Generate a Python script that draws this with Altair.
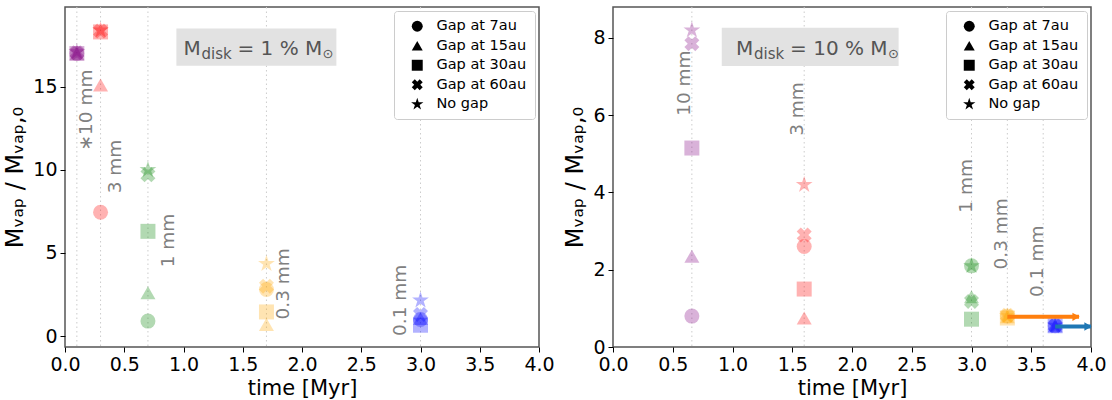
import altair as alt
import pandas as pd

GAPS = ["Gap at 7au", "Gap at 15au", "Gap at 30au", "Gap at 60au", "No gap"]
SIZES = ["10 mm", "3 mm", "1 mm", "0.3 mm", "0.1 mm"]
COLORS = ["rgba(128,0,128,0.3)", "rgba(255,0,0,0.3)", "rgba(0,128,0,0.3)",
          "rgba(255,165,0,0.3)", "rgba(0,0,255,0.3)"]
X_PATH = "M-1,-0.45L-0.45,-1L0,-0.55L0.45,-1L1,-0.45L0.55,0L1,0.45L0.45,1L0,0.55L-0.45,1L-1,0.45L-0.55,0Z"
STAR_PATH = ("M0,-1.18L0.265,-0.365L1.12,-0.365L0.428,0.139L0.694,0.955L0,0.451"
             "L-0.694,0.955L-0.428,0.139L-1.12,-0.365L-0.265,-0.365Z")
SHAPES = ["circle", "triangle-up", "square", X_PATH, STAR_PATH]

# ---- left panel (M_disk = 1 %) ----
left_time = [0.1, 0.3, 0.7, 1.7, 3.0]
left_gap7 = [17.0, 7.45, 0.9, 2.8, 1.0]
left_gap15 = [17.0, 15.1, 2.6, 0.7, 1.05]
left_gap30 = [17.0, 18.3, 6.3, 1.45, 0.65]
left_gap60 = [17.05, 18.35, 9.7, 3.0, 1.3]
left_nogap = [17.1, 18.4, 10.0, 4.35, 2.15]
left_vlines = [0.1, 0.3, 0.7, 1.7, 3.0]
left_label_text = ["\u221710 mm", "3 mm", "1 mm", "0.3 mm", "0.1 mm"]
left_label_x = [0.18, 0.42, 0.87, 1.84, 2.83]
left_label_y = [13.6, 10.2, 5.75, 3.14, 2.15]
left_box = [0.94, 2.29, 16.26, 18.5]
left_anchor = [1.0, 16.9]
left_pct = "= 1 % M"
left_ydomain = [-0.66, 19.8]
left_yticks = [0, 5, 10, 15]

# ---- right panel (M_disk = 10 %) ----
right_time = [0.66, 1.6, 3.0, 3.3, 3.7]
right_gap7 = [0.8, 2.6, 2.1, 0.8, 0.55]
right_gap15 = [2.35, 0.75, 1.3, 0.78, 0.55]
right_gap30 = [5.15, 1.5, 0.72, 0.75, 0.55]
right_gap60 = [7.85, 2.9, 1.18, 0.82, 0.55]
right_nogap = [8.2, 4.2, 2.1, 0.8, 0.56]
right_vlines = [0.66, 1.6, 3.0, 3.3, 3.6]
right_label_text = ["10 mm", "3 mm", "1 mm", "0.3 mm", "0.1 mm"]
right_label_x = [0.59, 1.54, 2.95, 3.25, 3.55]
right_label_y = [6.83, 6.16, 4.17, 2.93, 2.22]
right_box = [0.91, 2.39, 7.27, 8.26]
right_anchor = [1.03, 7.57]
right_pct = "= 10 % M"
right_ydomain = [0, 8.8]
right_yticks = [0, 2, 4, 6, 8]
arrow_x = [3.3, 3.7]
arrow_x2 = [3.9, 4.0]
arrow_y = [0.78, 0.53]
arrow_color = ["#ff7f0e", "#1f77b4"]

FONT = "DejaVu Sans"
YTITLE = "M\u1d65\u2090\u209a / M\u1d65\u2090\u209a,\u2080"


def panel(times, series, vlines, ltext, lx, ly, box, anchor, pct, ydom, yticks,
          width, sun_dx, arrows=None):
    rows = []
    for g, vals in zip(GAPS, series):
        for t, s, v in zip(times, SIZES, vals):
            rows.append({"time": t, "value": v, "size": s, "gap": g})
    df = pd.DataFrame(rows)

    xsc = alt.Scale(domain=[0, 4], nice=False, zero=False)
    ysc = alt.Scale(domain=ydom, nice=False, zero=False)
    xax = alt.Axis(values=[0, 0.5, 1, 1.5, 2, 2.5, 3, 3.5, 4], format=".1f",
                   title="time [Myr]", grid=False, domain=False, tickSize=5,
                   tickColor="black", labelFontSize=19, titleFontSize=21,
                   titleFontWeight="normal", labelColor="black", titleColor="black",
                   labelPadding=3, titlePadding=3, labelFlush=False)
    yax = alt.Axis(values=yticks, title=YTITLE, grid=False, domain=False,
                   tickSize=5, tickColor="black", labelFontSize=19,
                   titleFontSize=24, titleFontWeight="normal", labelColor="black",
                   titleColor="black", labelPadding=3, titlePadding=5)

    vl = alt.Chart(pd.DataFrame({"x": vlines})).mark_rule(
        color="#cccccc", strokeDash=[1.5, 3], strokeWidth=1
    ).encode(x=alt.X("x:Q", scale=xsc, axis=xax))

    bx = alt.Chart(pd.DataFrame({"x": [box[0]], "x2": [box[1]], "y": [box[2]], "y2": [box[3]]})).mark_rect(
        color="#e2e2e2"
    ).encode(x=alt.X("x:Q", scale=xsc), x2="x2:Q",
             y=alt.Y("y:Q", scale=ysc, axis=yax), y2="y2:Q")

    adf = pd.DataFrame({"x": [anchor[0]], "y": [anchor[1]]})
    def piece(txt, size, dx, dy):
        return alt.Chart(adf).mark_text(
            text=txt, fontSize=size, dx=dx, dy=dy, align="left",
            baseline="alphabetic", color="#555555", font=FONT
        ).encode(x=alt.X("x:Q", scale=xsc), y=alt.Y("y:Q", scale=ysc))
    texts = [piece("M", 20, 0, 0), piece("disk", 15, 18, 4),
             piece(pct, 20, 54, 0), piece("\u2299", 13, sun_dx, 3)]

    labs = alt.Chart(pd.DataFrame({"x": lx, "y": ly, "t": ltext})).mark_text(
        angle=270, fontSize=18.5, color="#808080", align="center",
        baseline="middle", font=FONT
    ).encode(x=alt.X("x:Q", scale=xsc), y=alt.Y("y:Q", scale=ysc), text="t:N")

    pts = alt.Chart(df).mark_point(filled=True, size=225, strokeWidth=0, opacity=1).encode(
        x=alt.X("time:Q", scale=xsc),
        y=alt.Y("value:Q", scale=ysc),
        color=alt.Color("size:N", scale=alt.Scale(domain=SIZES, range=COLORS), legend=None),
        shape=alt.Shape("gap:N", scale=alt.Scale(domain=GAPS, range=SHAPES),
                        legend=alt.Legend(orient="top-right", offset=4, title=None,
                                          symbolFillColor="black", symbolStrokeColor="black",
                                          symbolOpacity=1, symbolSize=120, symbolStrokeWidth=0,
                                          labelFontSize=14.5, labelColor="black",
                                          fillColor="white", strokeColor="#cccccc",
                                          cornerRadius=3, padding=8, rowPadding=4.5,
                                          symbolOffset=8, labelOffset=12, labelFont=FONT)),
    )

    layers = [vl, bx] + texts + [labs, pts]
    if arrows is not None:
        ax_df = pd.DataFrame({"x": arrows[0], "x2": arrows[1], "y": arrows[2], "c": arrows[3]})
        shaft = alt.Chart(ax_df).mark_rule(strokeWidth=4).encode(
            x=alt.X("x:Q", scale=xsc), x2="x2:Q", y=alt.Y("y:Q", scale=ysc),
            color=alt.Color("c:N", scale=None))
        head = alt.Chart(ax_df).mark_point(shape="triangle-right", filled=True, size=70,
                                           opacity=1, xOffset=-3).encode(
            x=alt.X("x2:Q", scale=xsc), y=alt.Y("y:Q", scale=ysc),
            color=alt.Color("c:N", scale=None))
        layers += [shaft, head]
    return alt.layer(*layers).properties(width=width, height=340)


left = panel(left_time, [left_gap7, left_gap15, left_gap30, left_gap60, left_nogap],
             left_vlines, left_label_text, left_label_x, left_label_y, left_box,
             left_anchor, left_pct, left_ydomain, left_yticks, 474, 139)
right = panel(right_time, [right_gap7, right_gap15, right_gap30, right_gap60, right_nogap],
              right_vlines, right_label_text, right_label_x, right_label_y, right_box,
              right_anchor, right_pct, right_ydomain, right_yticks, 478, 152,
              arrows=[arrow_x, arrow_x2, arrow_y, arrow_color])

chart = alt.hconcat(left, right, spacing=8).resolve_scale(
    shape="independent", color="independent", x="independent", y="independent"
).resolve_legend(shape="independent").configure(
    font=FONT, padding={"left": 3, "top": 5, "right": 5, "bottom": 5}
).configure_view(stroke="#555555", strokeWidth=1.5)

chart.save("out.html", embed_options={"renderer": "svg", "actions": False})
